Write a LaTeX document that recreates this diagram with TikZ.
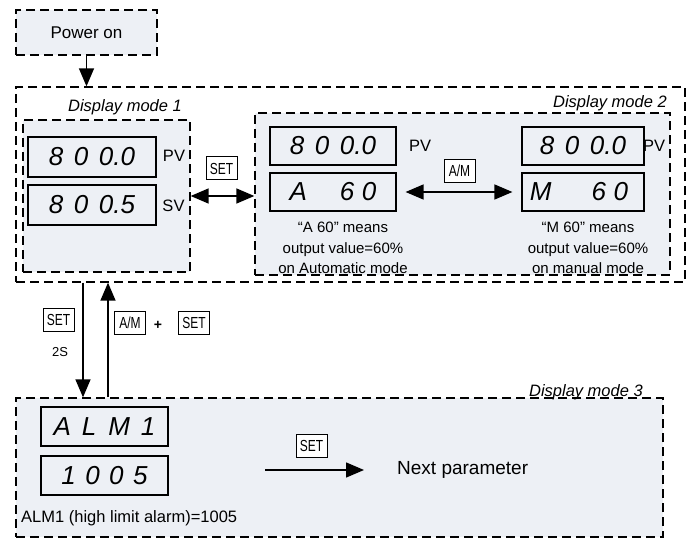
\documentclass[tikz,border=0pt]{standalone}
\usepackage{fontspec}
\setmainfont{Liberation Sans}
\newfontfamily\narrowfont{Liberation Sans}[FakeStretch=0.75]
\usetikzlibrary{arrows.meta}
\definecolor{panel}{HTML}{EDF0F5}
\tikzset{
  dbox/.style={draw, line width=1.3pt, dash pattern=on 9pt off 5pt, inner sep=0pt},
  disp/.style={draw, line width=1.1pt, fill=panel, minimum width=126pt, minimum height=38pt, inner sep=0pt,
    font=\fontsize{26}{26}\selectfont\itshape},
  btn/.style={draw, line width=1pt, fill=white, font=\narrowfont\fontsize{16}{16}\selectfont, inner sep=1pt,
    minimum width=31pt, minimum height=23pt},
  lbl/.style={font=\fontsize{16.5}{18}\selectfont},
  mlbl/.style={font=\fontsize{16.5}{18}\selectfont\itshape, inner sep=0pt},
  captxt/.style={font=\fontsize{15}{20.5}\selectfont, align=center, inner sep=0pt},
  arr/.style={line width=1.4pt, -{Triangle[length=18pt,width=15pt]}},
  darr/.style={line width=1.4pt, {Triangle[length=18pt,width=15pt]}-{Triangle[length=18pt,width=15pt]}},
}
\begin{document}
\begin{tikzpicture}[x=1pt,y=-1pt]
\useasboundingbox (0,0) rectangle (690,540);
% boxes
\node[dbox, fill=panel, minimum width=141pt, minimum height=45pt, font=\fontsize{17}{18}\selectfont] (power) at (86.5,32.5) {Power on};
\node[dbox, fill=white, minimum width=669pt, minimum height=195pt] (outer) at (350.5,184.5) {};
\node[dbox, fill=panel, minimum width=167pt, minimum height=152pt] (m1) at (106.5,196) {};
\node[dbox, fill=panel, minimum width=415pt, minimum height=162pt] (m2) at (462.5,194) {};
\node[dbox, fill=panel, minimum width=647pt, minimum height=139pt] (m3) at (339.5,467.5) {};
% mode labels
\node[mlbl] (l1) at (125,107) {Display mode 1};
\node[mlbl, anchor=east] (l2) at (667,103) {Display mode 2};
\node[mlbl, anchor=east] (l3) at (643,392) {Display mode 3};
% displays
\node[disp, minimum width=128pt, minimum height=40pt] (d1a) at (92,157) {8\hspace{10.5pt}0\hspace{10.5pt}0.0};
\node[disp, minimum width=128pt, minimum height=40pt] (d1b) at (92,205) {8\hspace{10.5pt}0\hspace{10.5pt}0.5};
\node[lbl] (pv1) at (174,156) {PV};
\node[lbl] (sv1) at (173.5,206) {SV};
\node[disp] (d2a) at (333,146) {8\hspace{10.5pt}0\hspace{10.5pt}0.0};
\node[disp] (d2b) at (333,192) {A\hspace{33pt}6\hspace{7.5pt}0};
\node[lbl] (pv2) at (420,146) {PV};
\node[disp, minimum width=122pt] (d3a) at (583,146) {8\hspace{10.5pt}0\hspace{10.5pt}0.0};
\node[disp, minimum width=122pt] (d3b) at (583,192) {M\hspace{40pt}6\hspace{7.5pt}0\hspace*{8pt}};
\node[lbl] (pv3) at (654,146) {PV};
\node[disp, minimum width=127pt, minimum height=39pt] (d4a) at (104.5,426.5) {A\hspace{11pt}L\hspace{12pt}M\hspace{11pt}1};
\node[disp, minimum width=127pt, minimum height=39pt] (d4b) at (104.5,475.5) {1\hspace{9.5pt}0\hspace{9.5pt}0\hspace{9.5pt}5};
% captions
\node[captxt] (c2) at (343,248) {“A 60” means\\output value=60\%\\on Automatic mode};
\node[captxt] (c3) at (588,248) {“M 60” means\\output value=60\%\\on manual mode};
\node[lbl, anchor=west, inner sep=0pt] (c4) at (21,518) {ALM1 (high limit alarm)=1005};
% buttons
\node[btn] (set1) at (221.5,168.5) {SET};
\node[btn] (am1) at (459.5,171) {A/M};
\node[btn] (set2) at (58.5,320) {SET};
\node[font=\fontsize{13}{14}\selectfont] (two) at (60,352) {2S};
\node[btn] (am2) at (130,323) {A/M};
\node[font=\bfseries\fontsize{14}{14}\selectfont] (plus) at (158,325) {+};
\node[btn] (set3) at (194,323) {SET};
\node[btn] (set4) at (311.5,445.5) {SET};
\node[font=\fontsize{19}{20}\selectfont, anchor=west, inner sep=0pt] (next) at (397,470) {Next parameter};
% connectors
\draw[arr] (power.south) -- (power.south |- outer.north);
\draw[darr] (m1.east) -- (m2.west |- m1.east);
\draw[darr, shorten <=9pt, shorten >=9pt] (d2b.east) -- (d3b.west);
\coordinate (xd) at (83,0);
\coordinate (xu) at (108,0);
\draw[arr] (xd |- outer.south) -- (xd |- m3.north);
\draw[arr] (xu |- m3.north) -- (xu |- outer.south);
\coordinate (s3) at (265,470);
\draw[arr, shorten >=33pt] (s3) -- (next.west);
\end{tikzpicture}
\end{document}
